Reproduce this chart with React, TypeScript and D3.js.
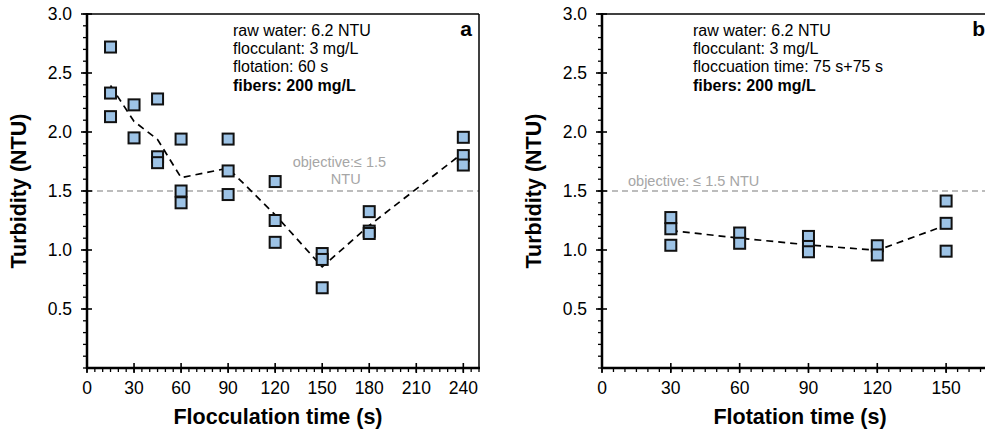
import React from 'react';
import * as d3 from 'd3';

// ---------- data ----------
const floccTimes = [15, 30, 45, 60, 90, 120, 150, 180, 240];
const floccTurbidity = [
  [2.72, 2.33, 2.13],
  [2.23, 1.95],
  [2.28, 1.79, 1.74],
  [1.94, 1.5, 1.4],
  [1.94, 1.67, 1.47],
  [1.58, 1.25, 1.065],
  [0.97, 0.92, 0.68],
  [1.325, 1.16, 1.14],
  [1.955, 1.8, 1.72],
];
const flotTimes = [30, 60, 90, 120, 150];
const flotTurbidity = [
  [1.275, 1.18, 1.04],
  [1.144, 1.057],
  [1.115, 1.03, 0.985],
  [1.036, 0.958],
  [1.415, 1.226, 0.99],
];
const yTicks = [0.5, 1.0, 1.5, 2.0, 2.5, 3.0];
const floccXTicks = [0, 30, 60, 90, 120, 150, 180, 210, 240];
const flotXTicks = [0, 30, 60, 90, 120, 150];
const objective = 1.5;
const notesA = ['raw water: 6.2 NTU', 'flocculant: 3 mg/L', 'flotation: 60 s', 'fibers: 200 mg/L'];
const notesB = ['raw water: 6.2 NTU', 'flocculant: 3 mg/L', 'floccuation time: 75 s+75 s', 'fibers: 200 mg/L'];

const FONT = "'Liberation Sans', Arial, Helvetica, sans-serif";
const TOP = 14;
const BOTTOM = 368;

type PanelProps = {
  left: number;
  right: number;
  xMax: number;
  xTicks: number[];
  times: number[];
  values: number[][];
  notes: string[];
  notesX: number;
  letter: string;
  xTitle: string;
  xTitleShift: number;
  objectiveText: 'a' | 'b';
};

function Panel(p: PanelProps) {
  const x = d3.scaleLinear().domain([0, p.xMax]).range([p.left, p.right]);
  const y = d3.scaleLinear().domain([0, 3]).range([BOTTOM, TOP]);
  const minorX = d3.range(0, p.xMax + 0.001, 5);
  const minorY = d3.range(0, 3.0001, 0.1);
  const means = p.values.map((v) => d3.mean(v) as number);
  const line = d3
    .line<number>()
    .x((_, i) => x(p.times[i]))
    .y((d) => y(d));
  const sq = 11;
  return (
    <g>
      {/* objective line */}
      <line x1={p.left} x2={p.right} y1={y(objective)} y2={y(objective)} stroke="#a6a6a6" strokeWidth={1.6} strokeDasharray="6,4" />
      {p.objectiveText === 'a' ? (
        <text fill="#a6a6a6" fontSize={14.5} fontFamily={FONT} textAnchor="middle">
          <tspan x={x(161)} y={y(objective) - 24}>objective:≤ 1.5</tspan>
          <tspan x={x(165)} y={y(objective) - 7}>NTU</tspan>
        </text>
      ) : (
        <text fill="#a6a6a6" fontSize={14.5} fontFamily={FONT} x={p.left + 26} y={y(objective) - 5}>
          objective: ≤ 1.5 NTU
        </text>
      )}
      {/* border */}
      <line x1={p.left} x2={p.right} y1={TOP} y2={TOP} stroke="#000" strokeWidth={1.5} />
      <line x1={p.right} x2={p.right} y1={TOP} y2={BOTTOM} stroke="#000" strokeWidth={1.5} />
      {/* minor ticks */}
      {minorX.map((t) => (
        <line key={'mx' + t} x1={x(t)} x2={x(t)} y1={BOTTOM} y2={BOTTOM + 4} stroke="#000" strokeWidth={1.3} />
      ))}
      {minorY.map((t) => (
        <line key={'my' + t} x1={p.left - 4} x2={p.left} y1={y(t)} y2={y(t)} stroke="#000" strokeWidth={1.3} />
      ))}
      {/* major ticks */}
      {p.xTicks.map((t) => (
        <g key={'X' + t}>
          <line x1={x(t)} x2={x(t)} y1={BOTTOM - 5} y2={BOTTOM + 5} stroke="#000" strokeWidth={1.6} />
          <text x={x(t)} y={BOTTOM + 26} fontSize={17.5} fontFamily={FONT} textAnchor="middle" fill="#000">
            {t}
          </text>
        </g>
      ))}
      {yTicks.map((t) => (
        <g key={'Y' + t}>
          <line x1={p.left - 6} x2={p.left + 5} y1={y(t)} y2={y(t)} stroke="#000" strokeWidth={1.6} />
          <text x={p.left - 15} y={y(t) + 6} fontSize={17.5} fontFamily={FONT} textAnchor="end" fill="#000">
            {t.toFixed(1)}
          </text>
        </g>
      ))}
      {/* axes */}
      <line x1={p.left} x2={p.left} y1={TOP - 1} y2={BOTTOM + 1} stroke="#000" strokeWidth={2.5} />
      <line x1={p.left - 1} x2={p.right + 1} y1={BOTTOM} y2={BOTTOM} stroke="#000" strokeWidth={2.5} />
      {/* axis titles */}
      <text x={(p.left + p.right) / 2 + p.xTitleShift} y={424} fontSize={21.5} fontWeight="bold" fontFamily={FONT} textAnchor="middle" fill="#000">
        {p.xTitle}
      </text>
      <text
        transform={`translate(${p.left - 61},${(TOP + BOTTOM) / 2}) rotate(-90)`}
        fontSize={21.5}
        fontWeight="bold"
        fontFamily={FONT}
        textAnchor="middle"
        fill="#000"
      >
        Turbidity (NTU)
      </text>
      {/* notes */}
      <text fontSize={16} fontFamily={FONT} fill="#000">
        {p.notes.map((n, i) => (
          <tspan key={n} x={p.notesX} y={TOP + 22 + i * 18.2} fontWeight={i === 3 ? 'bold' : 'normal'}>
            {n}
          </tspan>
        ))}
      </text>
      <text x={p.right - 7} y={TOP + 22} fontSize={21} fontWeight="bold" fontFamily={FONT} textAnchor="end" fill="#000">
        {p.letter}
      </text>
      {/* mean line */}
      <path d={line(means) || ''} fill="none" stroke="#000" strokeWidth={1.7} strokeDasharray="7,5" />
      {/* points */}
      {p.values.map((vals, i) =>
        vals.map((v, j) => (
          <rect
            key={i + '-' + j}
            x={x(p.times[i]) - sq / 2}
            y={y(v) - sq / 2}
            width={sq}
            height={sq}
            fill="#9dc3e6"
            stroke="#111"
            strokeWidth={2}
          />
        ))
      )}
    </g>
  );
}

export default function App() {
  return (
    <svg width={985} height={435} style={{ position: 'absolute', left: 0, top: 0, background: '#fff' }}>
      <rect x={0} y={0} width={985} height={435} fill="#fff" />
      <Panel
        left={87}
        right={479}
        xMax={250}
        xTicks={floccXTicks}
        times={floccTimes}
        values={floccTurbidity}
        notes={notesA}
        notesX={233}
        letter="a"
        xTitle="Flocculation time (s)"
        xTitleShift={-5}
        objectiveText="a"
      />
      <Panel
        left={602}
        right={992}
        xMax={170}
        xTicks={flotXTicks}
        times={flotTimes}
        values={flotTurbidity}
        notes={notesB}
        notesX={693}
        letter="b"
        xTitle="Flotation time (s)"
        xTitleShift={3}
        objectiveText="b"
      />
    </svg>
  );
}
